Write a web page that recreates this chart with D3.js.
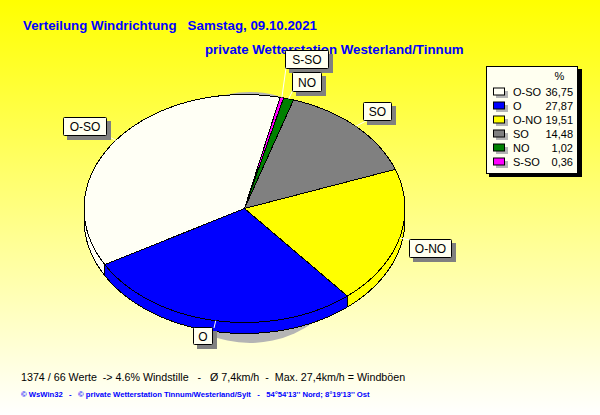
<!DOCTYPE html>
<html><head><meta charset="utf-8">
<script src="https://cdn.jsdelivr.net/npm/d3@7"></script>
<style>html,body{margin:0;padding:0;background:#fff}svg{display:block}text{font-family:"Liberation Sans",Arial,sans-serif}</style>
</head><body><svg id="c" width="600" height="415"></svg>
<script>
const titleLine1 = "Verteilung Windrichtung   Samstag, 09.10.2021";
const titleLine2 = "private Wetterstation Westerland/Tinnum";
const statsText = "1374 / 66 Werte  -> 4.6% Windstille   -   Ø 7,4km/h  -  Max. 27,4km/h = Windböen";
const footerText = "© WsWin32   -   © private Wetterstation Tinnum/Westerland/Sylt   -   54°54'13'' Nord; 8°19'13'' Ost";
const legendCategories = ["O-SO","O","O-NO","SO","NO","S-SO"];
const legendValues = [36.75,27.87,19.51,14.48,1.02,0.36];
const legendLabels = ["36,75","27,87","19,51","14,48","1,02","0,36"];
const sliceColors = ["#fffff5","#0000ff","#ffff00","#808080","#008000","#ff00ff"];
const drawOrder = ["O-SO","S-SO","NO","SO","O-NO","O"];
const labelCenters = {"O-SO":[85,126.5],"O":[203,336],"O-NO":[430.5,248.5],"SO":[377.5,111.5],"NO":[307,82],"S-SO":[307,59.5]};
const labelWidths = {"O-SO":44,"O":20,"O-NO":43,"SO":29,"NO":30,"S-SO":44};
const labelHeights = {"O-SO":19,"O":18,"O-NO":19,"SO":19,"NO":20,"S-SO":19};
const leaderEnds = {"O-SO":[106,135],"O":[214,328],"O-NO":[410,240],"SO":[368,120],"NO":[293,90],"S-SO":[286,68]};

const W=600,H=415,cx=244.5,cy=208.5,rx=160.5,ry=114,depth=11;
const svg=d3.select("#c");
const defs=svg.append("defs");
const g=defs.append("linearGradient").attr("id","bg").attr("x1",0).attr("y1",0).attr("x2",0).attr("y2",1);
g.append("stop").attr("offset","0").attr("stop-color","#ffff00");
g.append("stop").attr("offset","1").attr("stop-color","#ffffff");
svg.append("rect").attr("width",W).attr("height",H).attr("fill","url(#bg)");

const t=svg.append("g").attr("fill","#0000ff").attr("font-weight","bold").attr("font-size",13.3);
t.append("text").attr("x",23).attr("y",30).style("white-space","pre").text(titleLine1);
t.append("text").attr("x",205).attr("y",54).text(titleLine2);

const color=d3.scaleOrdinal(legendCategories,sliceColors);
const valueOf=c=>legendValues[legendCategories.indexOf(c)];
const startDeg=-119.5;
const pie=d3.pie().value(valueOf).sort(null).startAngle(startDeg*Math.PI/180).endAngle((startDeg+360)*Math.PI/180);
const arcs=pie(drawOrder);
const sx=d3.scaleLinear().domain([-1,1]).range([cx-rx,cx+rx]);
const sy=d3.scaleLinear().domain([-1,1]).range([cy-ry,cy+ry]);
const ptX=a=>sx(Math.sin(a)), ptY=a=>sy(-Math.cos(a));
const line=d3.line();
const sample=(a0,a1)=>d3.range(0,61).map(i=>a0+(a1-a0)*i/60);

// grey shadow
svg.append("ellipse").attr("cx",250).attr("cy",217.5).attr("rx",116).attr("ry",125.5).attr("fill","#b4b4b4");

const pieLayer=svg.append("g").attr("shape-rendering","crispEdges");
// extruded side wall
arcs.forEach(d=>{
  const a0=d.startAngle,a1=d.endAngle;
  [[Math.PI/2,3*Math.PI/2],[Math.PI/2-2*Math.PI,3*Math.PI/2-2*Math.PI]].forEach(([lo,hi])=>{
    const s=Math.max(a0,lo),e=Math.min(a1,hi);
    if(e<=s)return;
    const top=sample(s,e).map(a=>[ptX(a),ptY(a)]);
    const bot=sample(e,s).map(a=>[ptX(a),ptY(a)+depth]);
    pieLayer.append("path").attr("d",line(top.concat(bot))+"Z").attr("fill",color(d.data)).attr("stroke","#000").attr("stroke-width",1);
  });
});
// top faces
arcs.forEach(d=>{
  const pts=[[cx,cy]].concat(sample(d.startAngle,d.endAngle).map(a=>[ptX(a),ptY(a)]));
  pieLayer.append("path").attr("d",line(pts)+"Z").attr("fill",color(d.data)).attr("stroke","#000").attr("stroke-width",1);
});

// leader lines
arcs.forEach(d=>{
  const mid=(d.startAngle+d.endAngle)/2,[lx,ly]=leaderEnds[d.data];
  svg.append("line").attr("x1",ptX(mid)).attr("y1",ptY(mid)).attr("x2",lx).attr("y2",ly).attr("stroke","#fff").attr("stroke-width",1);
});
// label boxes
arcs.slice().sort((a,b)=>(a.data==="NO")-(b.data==="NO")).forEach(d=>{
  const name=d.data,[lx,ly]=labelCenters[name],bw=labelWidths[name],h=labelHeights[name];
  svg.append("rect").attr("x",lx-bw/2+4).attr("y",ly-h/2+4).attr("width",bw).attr("height",h).attr("fill","#808080");
  svg.append("rect").attr("x",lx-bw/2+.5).attr("y",ly-h/2+.5).attr("width",bw-1).attr("height",h-1).attr("rx",1).attr("fill","#fffff0").attr("stroke","#000");
  svg.append("text").attr("x",lx).attr("y",ly+4.5).attr("text-anchor","middle").attr("font-size",12).attr("fill","#000").text(name);
});

// legend
const lg=svg.append("g");
lg.append("rect").attr("x",489).attr("y",69).attr("width",93).attr("height",108).attr("fill","#000");
lg.append("rect").attr("x",486.5).attr("y",66.5).attr("width",91).attr("height",107).attr("fill","#fffff0").attr("stroke","#000");
lg.append("text").attr("x",559.5).attr("y",80).attr("font-size",11).attr("text-anchor","middle").text("%");
const ly=d3.scalePoint().domain(legendCategories).range([92,162]);
legendCategories.forEach((c,i)=>{
  const y=ly(c);
  lg.append("rect").attr("x",496).attr("y",y-1).attr("width",12).attr("height",7).attr("fill","#b4b4b4");
  lg.append("rect").attr("x",493.5).attr("y",y-4).attr("width",11).attr("height",7).attr("fill",sliceColors[i]).attr("stroke","#000");
  lg.append("text").attr("x",513).attr("y",y+4).attr("font-size",11).text(c);
  lg.append("text").attr("x",573).attr("y",y+4).attr("font-size",11).attr("text-anchor","end").text(legendLabels[i]);
});

svg.append("text").attr("x",21).attr("y",381).attr("font-size",10.7).attr("fill","#000").style("white-space","pre").text(statsText);
svg.append("text").attr("x",21).attr("y",397).attr("font-size",7.67).attr("font-weight","bold").attr("fill","#0000ff").style("white-space","pre").text(footerText);
</script></body></html>
